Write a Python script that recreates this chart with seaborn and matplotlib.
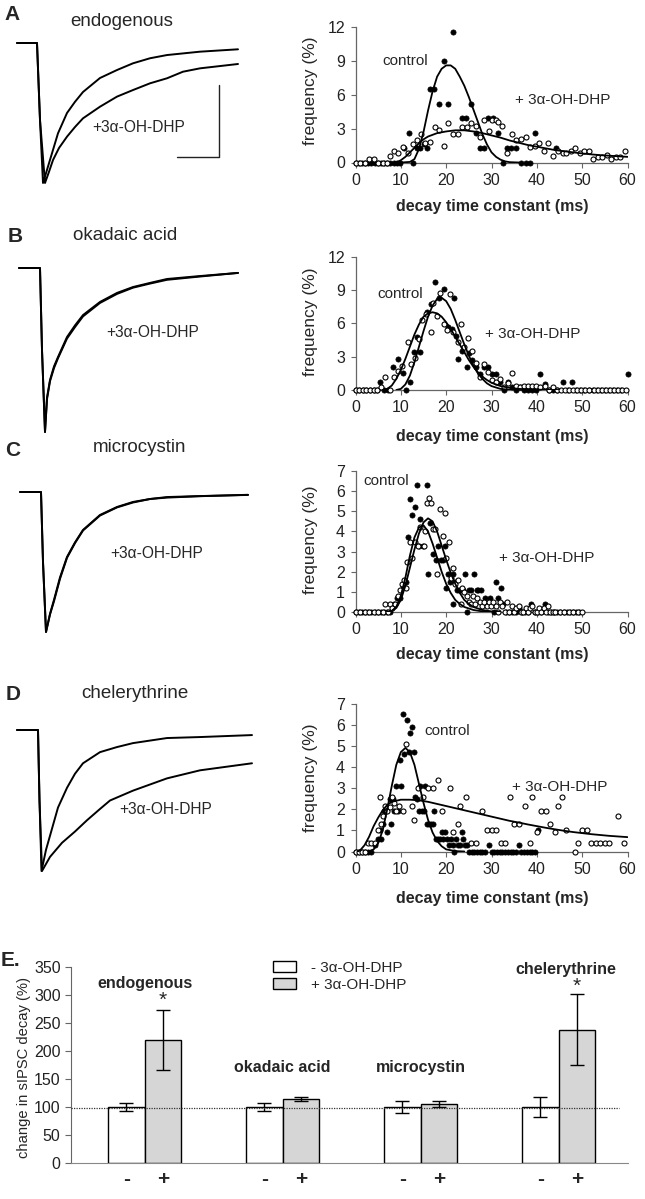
import numpy as np
import pandas as pd
import seaborn as sns
import matplotlib.pyplot as plt
from matplotlib.patches import Patch

sns.set_style("ticks")
plt.rcParams['font.family'] = ['Liberation Sans', 'DejaVu Sans']

W, H = 645, 1199

# ---- sIPSC traces (time in ms, current normalised to peak) ----
a_t_ctrl = [0, 20, 23, 26, 29, 33, 37, 41, 50, 58, 66, 83, 100, 116, 133, 150, 183, 221]
a_v_ctrl = [0, 0, -0.55, -1.0, -0.93, -0.835, -0.74, -0.645, -0.50, -0.42, -0.35, -0.25, -0.193, -0.145, -0.109, -0.086, -0.062, -0.045]
a_t_dhp = [0, 20, 23, 28, 32, 36, 42, 50, 58, 66, 83, 100, 116, 133, 150, 166, 183, 221]
a_v_dhp = [0, 0, -0.55, -1.0, -0.92, -0.836, -0.75, -0.669, -0.60, -0.538, -0.455, -0.383, -0.336, -0.288, -0.252, -0.205, -0.181, -0.15]
scalebar_t = [160, 202, 202]
scalebar_v = [-0.814, -0.814, -0.3]

b_t = [0, 21, 23, 26, 28, 31, 35, 39, 48, 56, 64, 81, 98, 114, 131, 148, 181, 219]
b_v_ctrl = [0, 0, -0.5, -1.0, -0.79, -0.683, -0.60, -0.543, -0.421, -0.35, -0.287, -0.207, -0.152, -0.116, -0.091, -0.067, -0.049, -0.03]
b_v_dhp = [0, 0, -0.5, -1.0, -0.80, -0.69, -0.61, -0.55, -0.43, -0.36, -0.295, -0.213, -0.158, -0.12, -0.095, -0.072, -0.052, -0.03]

c_t = [0, 21, 23, 26, 30, 34, 40, 47, 55, 63, 80, 97, 113, 130, 147, 180, 228]
c_v_ctrl = [0, 0, -0.5, -1.0, -0.87, -0.77, -0.61, -0.464, -0.36, -0.271, -0.164, -0.107, -0.071, -0.05, -0.036, -0.029, -0.021]
c_v_dhp = [0, 0, -0.5, -1.0, -0.875, -0.78, -0.62, -0.47, -0.365, -0.275, -0.168, -0.11, -0.075, -0.05, -0.04, -0.03, -0.02]

d_t_ctrl = [0, 21, 22.5, 24.5, 29, 35, 41, 50, 58, 66, 83, 100, 116, 150, 183, 235]
d_v_ctrl = [0, 0, -0.5, -1.0, -0.85, -0.70, -0.55, -0.41, -0.31, -0.236, -0.157, -0.121, -0.093, -0.057, -0.05, -0.036]
d_t_dhp = [0, 21, 22.5, 25, 29, 33, 45, 58, 70, 83, 93, 116, 150, 183, 235]
d_v_dhp = [0, 0, -0.5, -1.0, -0.95, -0.90, -0.80, -0.72, -0.64, -0.56, -0.50, -0.43, -0.343, -0.286, -0.236]

# ---- decay time distributions: (tau ms, frequency %) ----
a_ctrl_pts = [(0, 0), (0.7, 0), (1.4, 0), (2.1, 0), (2.8, 0), (3.5, 0), (4.2, 0), (4.9, 0), (5.6, 0), (6.3, 0),
              (7.0, 0), (7.7, 0), (8.4, 0), (9.1, 0), (9.8, 0), (10.7, 1.3), (11.7, 2.6), (12.6, 0), (13.5, 1.3),
              (14.3, 1.3), (15.0, 1.6), (15.7, 1.3), (16.4, 6.5), (17.3, 6.5), (18.5, 5.2), (19.6, 9.0), (20.5, 5.2),
              (21.5, 11.6), (23.4, 3.9), (24.3, 3.9), (25.4, 5.2), (26.5, 2.6), (27.4, 1.3), (28.3, 1.3), (29.3, 3.9),
              (30.4, 3.9), (31.5, 2.6), (32.6, 0), (33.5, 1.3), (34.4, 1.3), (35.5, 1.3), (36.6, 0), (37.6, 0),
              (38.5, 0), (39.6, 2.6), (44.3, 1.3)]
a_dhp_pts = [(0, 0), (1, 0), (2, 0), (3, 0.3), (4, 0.3), (5, 0), (6, 0), (7, 0), (7.6, 0.6), (8.5, 1.0), (9.4, 0.8),
             (10.5, 1.4), (11.6, 0.8), (12.6, 1.6), (13.5, 2.0), (14.4, 2.5), (15.3, 1.7), (16.4, 1.8), (17.5, 3.1),
             (18.5, 2.9), (19.5, 1.5), (20.5, 3.5), (21.5, 2.5), (22.5, 2.5), (23.4, 3.1), (24.5, 3.1), (25.4, 3.5),
             (26.5, 3.2), (27.4, 2.3), (28.4, 3.8), (29.4, 2.8), (30.1, 3.8), (30.9, 3.8), (31.5, 3.6), (32.4, 3.2),
             (33.5, 0.8), (34.6, 2.5), (35.5, 2.0), (36.5, 2.1), (37.5, 2.3), (38.5, 1.4), (39.6, 1.5), (40.5, 1.7),
             (41.5, 1.0), (42.5, 1.7), (43.6, 0.6), (44.7, 1.0), (45.7, 0.8), (46.5, 0.8), (47.5, 1.0), (48.5, 1.3),
             (49.5, 0.8), (50.4, 1.0), (51.5, 1.0), (52.4, 0.3), (53.4, 0.5), (54.4, 0.5), (55.4, 0.7), (56.3, 0.3),
             (57.4, 0.5), (58.3, 0.5), (59.4, 1.0)]
a_fit_ctrl = [(10, 0), (12, 0.05), (13, 0.3), (14, 1.2), (15, 2.7), (16, 4.6), (17, 6.3), (18, 7.6), (19, 8.3),
              (20, 8.6), (21, 8.6), (22, 8.3), (23, 7.6), (24, 6.8), (25, 5.8), (26, 4.7), (27, 3.6), (28, 2.5),
              (29, 1.6), (30, 0.9), (31, 0.5), (32, 0.25), (33, 0.1), (34, 0.03), (36, 0)]
a_fit_dhp = [(9, 0), (10, 0.2), (11, 0.5), (12, 0.9), (13, 1.3), (14, 1.7), (15, 2.05), (16, 2.3), (18, 2.6),
             (20, 2.75), (22, 2.85), (24, 2.85), (26, 2.75), (28, 2.6), (30, 2.4), (32, 2.2), (34, 1.95), (36, 1.75),
             (38, 1.55), (40, 1.4), (42, 1.25), (44, 1.1), (46, 1.0), (48, 0.9), (50, 0.8), (52, 0.72), (54, 0.65),
             (56, 0.6), (58, 0.55), (60, 0.5)]

b_ctrl_pts = [(0, 0), (0.8, 0), (1.6, 0), (2.4, 0), (3.2, 0), (4.0, 0), (4.8, 0), (5.5, 0.7), (6.3, 0), (7.2, 0),
              (8.2, 2.1), (9.4, 2.8), (10.5, 1.5), (11.2, 0), (12.1, 0.7), (12.9, 3.4), (13.5, 4.8), (14.2, 3.4),
              (15.8, 7.0), (16.6, 7.7), (17.6, 9.7), (18.4, 8.3), (19.5, 9.1), (20.4, 5.7), (21.2, 5.5), (21.8, 8.3),
              (22.1, 4.9), (22.6, 2.8), (23.4, 3.5), (24.5, 2.1), (25.1, 3.3), (25.8, 2.7), (26.6, 2.1), (27.4, 1.4),
              (28.3, 2.1), (29.2, 2.1), (30.1, 1.4), (31.0, 1.4), (31.9, 0.7), (32.8, 0), (33.6, 0.7), (34.5, 0.3),
              (35.4, 0), (36.3, 0.3), (37.2, 0), (38.1, 0), (39.0, 0), (39.9, 0), (40.7, 1.4), (41.8, 0.5), (42.6, 0),
              (43.5, 0), (44.4, 0), (45.8, 0.7), (46.8, 0), (47.8, 0.7), (48.7, 0), (49.6, 0), (50.5, 0), (51.4, 0),
              (52.3, 0), (53.2, 0), (54.1, 0), (55.0, 0), (55.9, 0), (56.8, 0), (57.7, 0), (58.6, 0), (60, 1.4)]
b_dhp_pts = [(0, 0), (0.8, 0), (1.6, 0), (2.4, 0), (3.2, 0), (4.0, 0), (4.8, 0), (5.6, 0.3), (6.6, 1.2), (7.5, 0),
             (8.5, 1.2), (9.4, 1.7), (10.3, 2.2), (11.5, 4.3), (12.3, 2.3), (13.2, 2.9), (14.0, 4.6), (14.6, 6.3),
             (15.5, 6.8), (16.6, 5.2), (17.2, 7.8), (17.9, 6.7), (18.7, 8.7), (19.5, 5.9), (20.1, 5.4), (20.8, 8.6),
             (21.5, 5.2), (22.6, 4.3), (23.2, 5.9), (24.0, 3.9), (24.8, 4.7), (25.8, 3.5), (26.6, 2.4), (27.4, 1.2),
             (28.3, 2.3), (29.2, 1.6), (30.1, 0.9), (31.0, 0.7), (31.9, 1.0), (32.8, 0.3), (33.6, 0.6), (34.5, 1.5),
             (35.4, 0.4), (36.3, 0.3), (37.2, 0.4), (38.1, 0.4), (39.0, 0.4), (39.9, 0.4), (40.8, 0.3), (41.7, 0.4),
             (42.6, 0), (43.5, 0.3), (44.4, 0), (45.3, 0), (46.2, 0), (47.1, 0), (48.0, 0), (48.9, 0), (49.8, 0),
             (50.7, 0), (51.6, 0), (52.5, 0), (53.4, 0), (54.3, 0), (55.2, 0), (56.1, 0), (57.0, 0), (57.9, 0),
             (58.8, 0), (59.7, 0)]
b_fit_ctrl = [(9, 0), (10, 0.1), (11, 0.5), (12, 1.3), (13, 2.5), (14, 3.9), (15, 5.3), (16, 6.6), (17, 7.6),
              (18, 8.2), (19, 8.3), (20, 8.0), (21, 7.3), (22, 6.3), (23, 5.2), (24, 4.1), (25, 3.1), (26, 2.2),
              (27, 1.5), (28, 1.0), (29, 0.6), (30, 0.35), (32, 0.1), (34, 0.02), (36, 0)]
b_fit_dhp = [(6, 0), (7, 0.1), (8, 0.4), (9, 1.0), (10, 1.8), (11, 2.8), (12, 3.9), (13, 5.0), (14, 5.9), (15, 6.6),
             (16, 6.9), (17, 7.0), (18, 6.9), (19, 6.6), (20, 6.1), (21, 5.5), (22, 4.8), (23, 4.1), (24, 3.4),
             (25, 2.7), (26, 2.1), (27, 1.6), (28, 1.2), (29, 0.9), (30, 0.65), (32, 0.35), (34, 0.2), (36, 0.1),
             (40, 0.03), (45, 0)]

c_ctrl_pts = [(0, 0), (0.7, 0), (1.4, 0), (2.1, 0), (2.8, 0), (3.5, 0), (4.2, 0), (4.9, 0), (5.6, 0), (6.3, 0),
              (7.0, 0), (7.7, 0), (8.4, 0.4), (9.1, 0.7), (9.8, 0.7), (10.5, 1.3), (11.2, 1.5), (11.6, 3.7),
              (12.0, 5.6), (12.5, 4.8), (13.2, 5.2), (13.6, 6.3), (13.9, 3.3), (14.3, 4.6), (14.8, 3.3), (15.7, 6.3),
              (16.0, 1.9), (16.5, 4.4), (17.2, 2.9), (17.7, 2.6), (18.3, 3.3), (18.8, 2.6), (19.2, 2.6), (19.7, 3.3),
              (20.0, 1.2), (20.4, 1.9), (20.9, 1.5), (21.4, 1.9), (21.6, 0.4), (21.9, 1.5), (22.3, 1.1), (22.8, 1.1),
              (23.3, 1.1), (23.7, 1.1), (24.1, 1.9), (24.6, 0), (25.0, 1.1), (25.5, 1.1), (26.2, 1.9), (26.7, 1.1),
              (27.1, 1.1), (27.6, 1.1), (28.1, 0.4), (28.6, 0.7), (29.1, 0.4), (29.6, 0.7), (30.1, 0.4), (30.6, 0),
              (31.0, 1.5), (31.5, 0.7), (32.1, 1.2), (32.6, 0.4), (33.2, 0), (33.9, 0), (34.6, 0), (35.3, 0),
              (36.0, 0.2), (36.7, 0), (37.4, 0), (38.1, 0), (38.8, 0.4), (39.5, 0), (40.2, 0), (40.9, 0),
              (41.7, 0.4), (42.4, 0), (43.1, 0), (43.8, 0), (44.5, 0), (45.2, 0), (45.9, 0), (46.6, 0), (47.3, 0),
              (48.0, 0), (48.7, 0), (49.4, 0)]
c_dhp_pts = [(0, 0), (1, 0), (2, 0), (3, 0), (4, 0), (5, 0), (6.1, 0), (6.6, 0.4), (7.1, 0), (7.6, 0.4), (8.1, 0.2),
             (8.8, 0.4), (9.4, 0.8), (9.9, 1.1), (10.3, 1.4), (10.8, 1.6), (11.2, 1.2), (11.4, 2.5), (12.1, 3.5),
             (12.5, 2.7), (13.2, 3.5), (13.7, 3.3), (14.3, 4.2), (15.1, 3.3), (15.4, 4.0), (15.8, 5.4), (16.2, 5.65),
             (16.6, 5.4), (17.2, 4.1), (17.6, 4.1), (18.0, 1.9), (18.6, 5.1), (19.2, 3.75), (19.7, 4.9), (20.0, 2.7),
             (20.6, 3.5), (21.0, 1.7), (21.6, 2.2), (22.0, 1.4), (22.5, 1.6), (23.2, 0.4), (23.6, 1.2), (24.0, 1.0),
             (24.5, 0.8), (25.0, 0.5), (25.4, 0.4), (25.9, 0.8), (26.4, 0.4), (26.9, 0.7), (27.4, 0.5), (27.9, 0.3),
             (28.4, 0.5), (28.9, 0.3), (29.4, 0.5), (29.9, 0.3), (30.4, 0.5), (30.9, 0.3), (31.4, 0), (31.9, 0.5),
             (32.4, 0.3), (32.9, 0), (33.4, 0.5), (33.9, 0), (34.5, 0.3), (35.0, 0), (35.5, 0.2), (36.0, 0.3),
             (36.5, 0), (37.0, 0), (37.5, 0.2), (38.0, 0), (38.5, 0.2), (39.0, 0.3), (39.5, 0), (40.0, 0),
             (40.5, 0.2), (41.0, 0), (41.5, 0.2), (42.0, 0), (42.5, 0.3), (43.0, 0), (43.5, 0), (44.0, 0),
             (45.0, 0), (46.0, 0), (47.0, 0), (48.0, 0), (49.0, 0), (50.0, 0)]
c_fit_ctrl = [(7, 0), (8, 0.05), (9, 0.25), (10, 0.8), (11, 1.7), (12, 2.8), (13, 3.7), (14, 4.2), (15, 4.3),
              (16, 4.0), (17, 3.4), (18, 2.7), (19, 2.0), (20, 1.4), (21, 0.95), (22, 0.6), (23, 0.4), (24, 0.25),
              (26, 0.1), (28, 0.03), (30, 0)]
c_fit_dhp = [(7, 0), (8, 0.05), (9, 0.2), (10, 0.6), (11, 1.3), (12, 2.2), (13, 3.1), (14, 3.9), (15, 4.45),
             (16, 4.65), (17, 4.5), (18, 4.0), (19, 3.3), (20, 2.6), (21, 1.95), (22, 1.4), (23, 0.95), (24, 0.6),
             (25, 0.4), (26, 0.25), (28, 0.1), (30, 0.03), (32, 0)]

d_ctrl_pts = [(0, 0), (0.7, 0), (1.4, 0), (2.1, 0), (2.8, 0), (3.5, 0), (4.2, 0.3), (4.9, 0.6), (5.3, 1.0),
              (5.6, 0.6), (6.0, 1.3), (6.3, 1.9), (6.7, 1.9), (7.0, 0.9), (7.5, 2.5), (7.8, 1.3), (8.2, 2.5),
              (8.6, 1.9), (9.0, 3.1), (9.4, 1.9), (9.8, 4.35), (10.0, 3.1), (10.4, 6.5), (10.8, 4.6), (11.3, 6.2),
              (11.7, 4.7), (12.1, 5.6), (12.4, 5.9), (12.8, 4.7), (13.2, 2.6), (13.6, 2.5), (14.0, 1.9), (14.3, 3.1),
              (14.7, 1.9), (15.0, 1.9), (15.4, 3.1), (15.8, 1.3), (16.2, 1.3), (16.6, 1.3), (17.0, 1.3), (17.4, 1.9),
              (17.8, 0.6), (18.2, 0.6), (18.6, 0.6), (19.0, 0.9), (19.4, 0.6), (19.8, 0.9), (20.2, 0.6), (20.6, 0.3),
              (21.0, 0.6), (21.4, 0.3), (21.8, 0), (22.2, 0.6), (22.6, 0.3), (23.0, 0.3), (23.4, 0.9), (23.8, 0.6),
              (24.2, 0.3), (24.6, 0.3), (25.0, 0), (25.6, 0), (26.2, 0), (26.8, 0), (27.4, 0), (28.0, 0), (28.6, 0),
              (29.4, 0.3), (30.0, 0), (30.6, 0), (31.2, 0), (31.8, 0), (32.4, 0), (33.0, 0), (33.6, 0), (34.2, 0),
              (34.8, 0), (35.4, 0), (36.0, 0.3), (36.6, 0), (37.2, 0), (37.8, 0), (38.4, 0), (39.0, 0), (39.6, 0),
              (40.3, 1.0)]
d_dhp_pts = [(0, 0), (0.7, 0), (1.4, 0), (2.1, 0), (2.8, 0.4), (3.5, 0.4), (4.2, 0.4), (4.9, 1.0), (5.3, 2.6),
             (5.6, 1.3), (6.0, 1.7), (6.5, 2.15), (7.0, 1.9), (7.5, 2.1), (8.0, 2.6), (8.5, 2.3), (9.0, 1.9),
             (9.5, 2.15), (10.4, 1.9), (11.2, 5.1), (12.4, 2.15), (13.0, 1.5), (13.7, 3.0), (14.9, 2.6), (15.9, 3.0),
             (17.2, 3.0), (18.3, 3.4), (19.0, 1.9), (20.8, 3.0), (21.5, 0.9), (22.5, 1.3), (23.1, 2.15), (24.4, 2.6),
             (25.5, 0.4), (26.5, 0.4), (28.0, 1.9), (29.0, 1.0), (30.0, 1.0), (31.0, 1.0), (32.0, 0.4), (33.0, 0.4),
             (34.0, 2.6), (35.0, 1.3), (36.0, 1.3), (37.3, 2.15), (38.5, 0.4), (39.0, 2.6), (40.0, 0.9), (41.0, 1.9),
             (42.0, 1.9), (43.0, 1.3), (44.0, 0.9), (44.7, 2.15), (45.6, 2.6), (46.5, 1.0), (48.4, 0), (49.0, 0.4),
             (50.0, 1.0), (51.0, 1.0), (52.0, 0.4), (53.0, 0.4), (54.0, 0.4), (55.0, 0.4), (56.0, 0.4), (58.0, 1.7),
             (59.2, 0.4)]
d_fit_ctrl = [(3, 0), (4, 0.1), (5, 0.4), (6, 1.0), (7, 2.0), (8, 3.1), (9, 4.1), (10, 4.7), (11, 4.9), (12, 4.7),
              (13, 4.1), (14, 3.2), (15, 2.3), (16, 1.5), (17, 0.9), (18, 0.5), (19, 0.25), (20, 0.1), (22, 0.02),
              (24, 0)]
d_fit_dhp = [(0.5, 0), (1, 0.05), (2, 0.3), (3, 0.7), (4, 1.2), (5, 1.6), (6, 1.95), (7, 2.2), (8, 2.35), (9, 2.4),
             (10, 2.45), (12, 2.45), (14, 2.42), (16, 2.35), (18, 2.25), (20, 2.15), (22, 2.05), (24, 1.95),
             (26, 1.85), (28, 1.75), (30, 1.65), (32, 1.55), (34, 1.45), (36, 1.37), (38, 1.28), (40, 1.2),
             (42, 1.12), (44, 1.05), (46, 0.98), (48, 0.92), (50, 0.87), (52, 0.82), (54, 0.78), (56, 0.74),
             (58, 0.71), (60, 0.68)]

# ---- panel E ----
groups = ['endogenous', 'okadaic acid', 'microcystin', 'chelerythrine']
minus_vals = [100, 100, 100, 100]
minus_err = [8, 7, 10, 17.5]
plus_vals = [220, 115, 105, 238]
plus_err = [54, 3.5, 5, 63]
control_line = 97.5


fig = plt.figure(figsize=(W / 100, H / 100), dpi=100)


def px_axes(l, t, r, b):
    return fig.add_axes([l / W, 1 - b / H, (r - l) / W, (b - t) / H])


def txt(x, y, s, **kw):
    kw.setdefault('ha', 'center')
    kw.setdefault('va', 'center')
    fig.text(x / W, 1 - y / H, s, **kw)


def trace_panel(box, traces, tmax=235):
    ax = px_axes(*box)
    for t, v in traces:
        sns.lineplot(x=t, y=v, ax=ax, sort=False, estimator=None, color='black', lw=1.4, clip_on=False)
    ax.set_xlim(0, tmax)
    ax.set_ylim(-1, 0)
    ax.axis('off')
    return ax


def dist_panel(box, ctrl, dhp, fit_c, fit_d, ymax, ystep):
    ax = px_axes(*box)
    dc = pd.DataFrame(ctrl, columns=['tau', 'freq'])
    dd = pd.DataFrame(dhp, columns=['tau', 'freq'])
    sns.scatterplot(data=dc, x='tau', y='freq', ax=ax, color='black', edgecolor='black', s=14,
                    linewidth=0.5, clip_on=False, zorder=3)
    sns.scatterplot(data=dd, x='tau', y='freq', ax=ax, color='white', edgecolor='black', s=13,
                    linewidth=0.8, clip_on=False, zorder=4)
    for fit in (fit_c, fit_d):
        f = pd.DataFrame(fit, columns=['tau', 'freq'])
        sns.lineplot(data=f, x='tau', y='freq', ax=ax, sort=False, estimator=None, color='black',
                     lw=1.3, zorder=5)
    ax.set_xlim(0, 60)
    ax.set_ylim(0, ymax)
    ax.set_xticks(range(0, 61, 10))
    ax.set_yticks(np.arange(0, ymax + 0.01, ystep))
    ax.set_xlabel('')
    ax.set_ylabel('')
    sns.despine(ax=ax)
    for s in ['left', 'bottom']:
        ax.spines[s].set_color('#666')
        ax.spines[s].set_linewidth(0.9)
    ax.tick_params(labelsize=11.5, length=3.5, width=0.8, color='#666', pad=4, labelcolor='#222')
    return ax


# traces
trace_panel((17, 43, 252, 183), [(a_t_ctrl, a_v_ctrl), (a_t_dhp, a_v_dhp)])
axA = fig.axes[-1]
sns.lineplot(x=scalebar_t, y=scalebar_v, ax=axA, sort=False, estimator=None, color='#222', lw=1.0)
trace_panel((19, 268, 254, 432), [(b_t, b_v_ctrl), (b_t, b_v_dhp)])
trace_panel((20, 492, 255, 632), [(c_t, c_v_ctrl), (c_t, c_v_dhp)])
trace_panel((17, 730, 252, 871), [(d_t_ctrl, d_v_ctrl), (d_t_dhp, d_v_dhp)])

# distributions
dist_panel((355.5, 27, 627.5, 162.5), a_ctrl_pts, a_dhp_pts, a_fit_ctrl, a_fit_dhp, 12, 3)
dist_panel((355.5, 256.7, 627.5, 390), b_ctrl_pts, b_dhp_pts, b_fit_ctrl, b_fit_dhp, 12, 3)
dist_panel((355.5, 471, 627.5, 612), c_ctrl_pts, c_dhp_pts, c_fit_ctrl, c_fit_dhp, 7, 1)
dist_panel((355.5, 703.5, 627.5, 851.5), d_ctrl_pts, d_dhp_pts, d_fit_ctrl, d_fit_dhp, 7, 1)

# panel texts
for lab, x, y in [('A', 12, 15), ('B', 15, 237), ('C', 13, 450), ('D', 13, 695)]:
    txt(x, y, lab, fontsize=15, fontweight='bold')
for lab, x, y in [('endogenous', 122, 22), ('okadaic acid', 125, 235), ('microcystin', 140, 448),
                  ('chelerythrine', 135, 693)]:
    txt(x, y, lab, fontsize=13.5)
for x, y in [(139, 128), (153, 332), (157, 553), (166, 810)]:
    txt(x, y, '+3α-OH-DHP', fontsize=11.2)
for x, y in [(405, 61), (400, 294), (386, 481), (447, 731)]:
    txt(x, y, 'control', fontsize=11)
for x, y in [(563, 100), (533, 334), (547, 558), (560, 787)]:
    txt(x, y, '+ 3α-OH-DHP', fontsize=11)
for y in [207, 437, 655, 898]:
    txt(492, y, 'decay time constant (ms)', fontsize=11.5, fontweight='bold')
for y in [91, 322, 540, 778]:
    txt(310, y, 'frequency (%)', fontsize=12.5, rotation=90)

# ---- panel E bars ----
bars = pd.DataFrame({
    'group': groups * 2,
    'cond': ['-'] * 4 + ['+'] * 4,
    'val': minus_vals + plus_vals,
})
axE = px_axes(71, 967, 627.5, 1163)
sns.barplot(data=bars, x='group', y='val', hue='cond', order=groups, hue_order=['-', '+'],
            palette={'-': 'white', '+': '#d6d6d6'}, edgecolor='black', linewidth=1.0,
            width=0.53, gap=0, errorbar=None, legend=False, ax=axE)
centers = []
for cont, errs in zip(axE.containers, [minus_err, plus_err]):
    xs = [p.get_x() + p.get_width() / 2 for p in cont]
    ys = [p.get_height() for p in cont]
    axE.errorbar(xs, ys, yerr=errs, fmt='none', ecolor='black', elinewidth=1.0, capsize=5, capthick=1.0,
                 zorder=4)
    centers += xs
axE.axhline(control_line, xmin=0, xmax=0.985, color='#333', lw=0.9, ls=(0, (1, 1)), zorder=5)
axE.set_xlim(-0.534, 3.498)
axE.set_ylim(0, 350)
axE.set_yticks(range(0, 351, 50))
order = np.argsort(centers)
axE.set_xticks(np.array(centers)[order])
axE.set_xticklabels((['-'] * 4 + ['+'] * 4)[i] for i in order)
for lab in axE.get_xticklabels():
    lab.set_fontweight('bold')
    lab.set_fontsize(15)
axE.tick_params(axis='x', length=0, pad=5)
axE.tick_params(axis='y', labelsize=11.5, length=4, width=0.8, color='#666', labelcolor='#222')
axE.set_xlabel('')
axE.set_ylabel('')
sns.despine(ax=axE)
axE.spines['left'].set_color('#666')
axE.spines['bottom'].set_color('#888')

for lab, x, y in [('endogenous', 0, 320), ('okadaic acid', 1, 170), ('microcystin', 2, 170),
                  ('chelerythrine', 3.05, 346)]:
    axE.text(x, y, lab, ha='center', va='center', fontsize=11.5, fontweight='bold', clip_on=False)
for x, y in [(0.13, 290), (3.13, 316)]:
    axE.text(x, y, '*', ha='center', va='center', fontsize=15, clip_on=False)

handles = [Patch(facecolor='white', edgecolor='black', lw=1.0), Patch(facecolor='#d6d6d6', edgecolor='black', lw=1.0)]
fig.legend(handles, ['- 3α-OH-DHP', '+ 3α-OH-DHP'], loc='upper left', bbox_to_anchor=(273 / W, 1 - 961 / H),
           frameon=False, fontsize=11, handlelength=1.5, handleheight=0.7, handletextpad=1.0,
           labelspacing=0.2, borderaxespad=0, borderpad=0)

txt(10, 960, 'E.', fontsize=15, fontweight='bold')
txt(24, 1067, 'change in sIPSC decay (%)', fontsize=10.6, rotation=90)

fig.savefig('out.png', dpi=100)
